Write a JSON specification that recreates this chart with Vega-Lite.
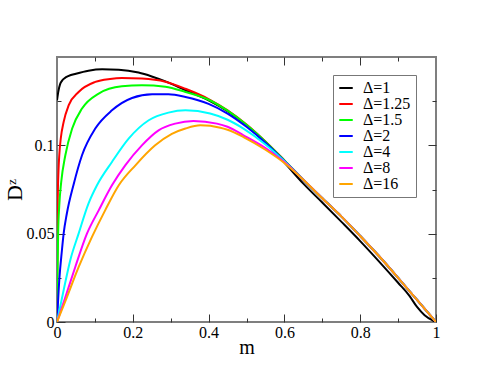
{
  "$schema": "https://vega.github.io/schema/vega-lite/v6.json",
  "width": 379,
  "height": 265,
  "autosize": {"type": "none"},
  "padding": {"left": 57, "top": 57, "right": 55, "bottom": 57},
  "config": {
    "view": {"stroke": "#7f7f7f", "strokeWidth": 2},
    "font": "Liberation Serif",
    "axis": {"domain": false, "grid": false, "labelFont": "Liberation Serif", "labelFontSize": 16, "labelColor": "#000", "titleFont": "Liberation Serif", "titleFontWeight": "normal", "titleColor": "#000", "tickColor": "#333", "tickWidth": 1, "labelFlush": false}
  },
  "resolve": {"axis": {"x": "independent", "y": "independent"}},
  "layer": [
    {
      "data": {"values": [
        {"s":"Δ=1","m":0,"D":0.1255},{"s":"Δ=1","m":0.004,"D":0.131},{"s":"Δ=1","m":0.008,"D":0.1345},{"s":"Δ=1","m":0.013,"D":0.1365},{"s":"Δ=1","m":0.02,"D":0.138},{"s":"Δ=1","m":0.031,"D":0.1393},{"s":"Δ=1","m":0.05,"D":0.1405},{"s":"Δ=1","m":0.083,"D":0.1422},{"s":"Δ=1","m":0.119,"D":0.143},{"s":"Δ=1","m":0.163,"D":0.1428},{"s":"Δ=1","m":0.215,"D":0.1412},{"s":"Δ=1","m":0.25,"D":0.139},{"s":"Δ=1","m":0.286,"D":0.1362},{"s":"Δ=1","m":0.339,"D":0.1312},{"s":"Δ=1","m":0.4,"D":0.1255},{"s":"Δ=1","m":0.45,"D":0.1193},{"s":"Δ=1","m":0.5,"D":0.1112},{"s":"Δ=1","m":0.55,"D":0.1015},{"s":"Δ=1","m":0.6,"D":0.0902},{"s":"Δ=1","m":0.65,"D":0.0783},{"s":"Δ=1","m":0.7,"D":0.0676},{"s":"Δ=1","m":0.75,"D":0.0568},{"s":"Δ=1","m":0.8,"D":0.0458},{"s":"Δ=1","m":0.85,"D":0.0342},{"s":"Δ=1","m":0.9,"D":0.0222},{"s":"Δ=1","m":0.93,"D":0.0148},{"s":"Δ=1","m":0.95,"D":0.0085},{"s":"Δ=1","m":0.97,"D":0.0038},{"s":"Δ=1","m":0.99,"D":0.001},{"s":"Δ=1","m":1,"D":0},

        {"s":"Δ=1.25","m":0,"D":0},{"s":"Δ=1.25","m":0.002,"D":0.07},{"s":"Δ=1.25","m":0.004,"D":0.086},{"s":"Δ=1.25","m":0.006,"D":0.0944},{"s":"Δ=1.25","m":0.01,"D":0.104},{"s":"Δ=1.25","m":0.0175,"D":0.1132},{"s":"Δ=1.25","m":0.031,"D":0.1227},{"s":"Δ=1.25","m":0.057,"D":0.1302},{"s":"Δ=1.25","m":0.101,"D":0.1359},{"s":"Δ=1.25","m":0.14,"D":0.1376},{"s":"Δ=1.25","m":0.171,"D":0.1381},{"s":"Δ=1.25","m":0.224,"D":0.1378},{"s":"Δ=1.25","m":0.286,"D":0.136},{"s":"Δ=1.25","m":0.339,"D":0.132},{"s":"Δ=1.25","m":0.4,"D":0.1262},{"s":"Δ=1.25","m":0.45,"D":0.1198},{"s":"Δ=1.25","m":0.5,"D":0.1118},{"s":"Δ=1.25","m":0.55,"D":0.1022},{"s":"Δ=1.25","m":0.6,"D":0.0915},{"s":"Δ=1.25","m":0.65,"D":0.0805},{"s":"Δ=1.25","m":0.7,"D":0.07},{"s":"Δ=1.25","m":0.75,"D":0.0598},{"s":"Δ=1.25","m":0.8,"D":0.0487},{"s":"Δ=1.25","m":0.85,"D":0.0372},{"s":"Δ=1.25","m":0.9,"D":0.025},{"s":"Δ=1.25","m":0.95,"D":0.0125},{"s":"Δ=1.25","m":1,"D":0},

        {"s":"Δ=1.5","m":0,"D":0},{"s":"Δ=1.5","m":0.001,"D":0.022},{"s":"Δ=1.5","m":0.003,"D":0.05},{"s":"Δ=1.5","m":0.006,"D":0.066},{"s":"Δ=1.5","m":0.011,"D":0.079},{"s":"Δ=1.5","m":0.022,"D":0.0944},{"s":"Δ=1.5","m":0.04,"D":0.1095},{"s":"Δ=1.5","m":0.066,"D":0.1208},{"s":"Δ=1.5","m":0.11,"D":0.1293},{"s":"Δ=1.5","m":0.171,"D":0.1334},{"s":"Δ=1.5","m":0.224,"D":0.134},{"s":"Δ=1.5","m":0.286,"D":0.1332},{"s":"Δ=1.5","m":0.339,"D":0.1302},{"s":"Δ=1.5","m":0.4,"D":0.1258},{"s":"Δ=1.5","m":0.45,"D":0.1196},{"s":"Δ=1.5","m":0.5,"D":0.1116},{"s":"Δ=1.5","m":0.55,"D":0.1021},{"s":"Δ=1.5","m":0.6,"D":0.0915},{"s":"Δ=1.5","m":0.65,"D":0.0805},{"s":"Δ=1.5","m":0.7,"D":0.07},{"s":"Δ=1.5","m":0.75,"D":0.0598},{"s":"Δ=1.5","m":0.8,"D":0.0487},{"s":"Δ=1.5","m":0.85,"D":0.0372},{"s":"Δ=1.5","m":0.9,"D":0.025},{"s":"Δ=1.5","m":0.95,"D":0.0125},{"s":"Δ=1.5","m":1,"D":0},

        {"s":"Δ=2","m":0,"D":0},{"s":"Δ=2","m":0.006,"D":0.0236},{"s":"Δ=2","m":0.013,"D":0.0406},{"s":"Δ=2","m":0.0175,"D":0.05},{"s":"Δ=2","m":0.026,"D":0.0614},{"s":"Δ=2","m":0.044,"D":0.078},{"s":"Δ=2","m":0.066,"D":0.0944},{"s":"Δ=2","m":0.101,"D":0.1095},{"s":"Δ=2","m":0.145,"D":0.1198},{"s":"Δ=2","m":0.198,"D":0.1268},{"s":"Δ=2","m":0.251,"D":0.1289},{"s":"Δ=2","m":0.294,"D":0.1289},{"s":"Δ=2","m":0.339,"D":0.1274},{"s":"Δ=2","m":0.4,"D":0.1235},{"s":"Δ=2","m":0.45,"D":0.118},{"s":"Δ=2","m":0.5,"D":0.1105},{"s":"Δ=2","m":0.55,"D":0.1015},{"s":"Δ=2","m":0.6,"D":0.0912},{"s":"Δ=2","m":0.65,"D":0.0805},{"s":"Δ=2","m":0.7,"D":0.07},{"s":"Δ=2","m":0.75,"D":0.0598},{"s":"Δ=2","m":0.8,"D":0.0487},{"s":"Δ=2","m":0.85,"D":0.0372},{"s":"Δ=2","m":0.9,"D":0.025},{"s":"Δ=2","m":0.95,"D":0.0125},{"s":"Δ=2","m":1,"D":0},

        {"s":"Δ=4","m":0,"D":0},{"s":"Δ=4","m":0.0175,"D":0.018},{"s":"Δ=4","m":0.035,"D":0.035},{"s":"Δ=4","m":0.057,"D":0.05},{"s":"Δ=4","m":0.083,"D":0.067},{"s":"Δ=4","m":0.1055,"D":0.0774},{"s":"Δ=4","m":0.145,"D":0.0906},{"s":"Δ=4","m":0.189,"D":0.1038},{"s":"Δ=4","m":0.242,"D":0.1142},{"s":"Δ=4","m":0.294,"D":0.1185},{"s":"Δ=4","m":0.339,"D":0.1198},{"s":"Δ=4","m":0.404,"D":0.118},{"s":"Δ=4","m":0.45,"D":0.1145},{"s":"Δ=4","m":0.492,"D":0.1095},{"s":"Δ=4","m":0.55,"D":0.1005},{"s":"Δ=4","m":0.6,"D":0.091},{"s":"Δ=4","m":0.65,"D":0.0805},{"s":"Δ=4","m":0.7,"D":0.07},{"s":"Δ=4","m":0.75,"D":0.0598},{"s":"Δ=4","m":0.8,"D":0.0487},{"s":"Δ=4","m":0.85,"D":0.0372},{"s":"Δ=4","m":0.9,"D":0.025},{"s":"Δ=4","m":0.95,"D":0.0125},{"s":"Δ=4","m":1,"D":0},

        {"s":"Δ=8","m":0,"D":0},{"s":"Δ=8","m":0.022,"D":0.014},{"s":"Δ=8","m":0.048,"D":0.031},{"s":"Δ=8","m":0.079,"D":0.05},{"s":"Δ=8","m":0.11,"D":0.0632},{"s":"Δ=8","m":0.145,"D":0.0774},{"s":"Δ=8","m":0.18,"D":0.0887},{"s":"Δ=8","m":0.224,"D":0.1},{"s":"Δ=8","m":0.268,"D":0.1085},{"s":"Δ=8","m":0.312,"D":0.1123},{"s":"Δ=8","m":0.36,"D":0.1138},{"s":"Δ=8","m":0.422,"D":0.1123},{"s":"Δ=8","m":0.45,"D":0.1105},{"s":"Δ=8","m":0.492,"D":0.1057},{"s":"Δ=8","m":0.55,"D":0.0985},{"s":"Δ=8","m":0.6,"D":0.0905},{"s":"Δ=8","m":0.65,"D":0.0805},{"s":"Δ=8","m":0.7,"D":0.07},{"s":"Δ=8","m":0.75,"D":0.0598},{"s":"Δ=8","m":0.8,"D":0.0487},{"s":"Δ=8","m":0.85,"D":0.0372},{"s":"Δ=8","m":0.9,"D":0.025},{"s":"Δ=8","m":0.95,"D":0.0125},{"s":"Δ=8","m":1,"D":0},

        {"s":"Δ=16","m":0,"D":0},{"s":"Δ=16","m":0.026,"D":0.014},{"s":"Δ=16","m":0.057,"D":0.031},{"s":"Δ=16","m":0.092,"D":0.048},{"s":"Δ=16","m":0.127,"D":0.0632},{"s":"Δ=16","m":0.163,"D":0.0774},{"s":"Δ=16","m":0.207,"D":0.0887},{"s":"Δ=16","m":0.259,"D":0.1},{"s":"Δ=16","m":0.303,"D":0.1065},{"s":"Δ=16","m":0.339,"D":0.1095},{"s":"Δ=16","m":0.378,"D":0.1113},{"s":"Δ=16","m":0.431,"D":0.11},{"s":"Δ=16","m":0.45,"D":0.1088},{"s":"Δ=16","m":0.492,"D":0.1047},{"s":"Δ=16","m":0.55,"D":0.0975},{"s":"Δ=16","m":0.6,"D":0.09},{"s":"Δ=16","m":0.65,"D":0.0805},{"s":"Δ=16","m":0.7,"D":0.07},{"s":"Δ=16","m":0.75,"D":0.0598},{"s":"Δ=16","m":0.8,"D":0.0487},{"s":"Δ=16","m":0.85,"D":0.0372},{"s":"Δ=16","m":0.9,"D":0.025},{"s":"Δ=16","m":0.95,"D":0.0125},{"s":"Δ=16","m":1,"D":0}
      ]},
      "mark": {"type": "line", "strokeWidth": 2, "interpolate": "monotone", "clip": true},
      "encoding": {
        "x": {"field": "m", "type": "quantitative", "scale": {"domain": [0, 1], "nice": false},
              "axis": {"orient": "bottom", "values": [0, 0.1, 0.2, 0.3, 0.4, 0.5, 0.6, 0.7, 0.8, 0.9, 1], "format": "~g",
                       "labelExpr": "round(datum.value*10) % 2 == 0 ? datum.label : ''",
                       "tickSize": {"condition": {"test": "round(datum.value*10) % 2 == 0", "value": -8}, "value": -4},
                       "labelPadding": 10, "title": "m", "titleFontSize": 20, "titlePadding": -3}},
        "y": {"field": "D", "type": "quantitative", "scale": {"domain": [0, 0.15], "nice": false, "zero": false},
              "axis": {"orient": "left", "values": [0, 0.025, 0.05, 0.075, 0.1, 0.125], "format": "~g",
                       "labelExpr": "round(datum.value*40) % 2 == 0 ? datum.label : ''",
                       "tickSize": {"condition": {"test": "round(datum.value*40) % 2 == 0", "value": -8}, "value": -4},
                       "labelPadding": 11, "title": "Dᶻ", "titleFontSize": 22, "titlePadding": 0}},
        "color": {"field": "s", "type": "nominal",
                  "scale": {"domain": ["Δ=1", "Δ=1.25", "Δ=1.5", "Δ=2", "Δ=4", "Δ=8", "Δ=16"],
                            "range": ["#000000", "#ff0000", "#00ff00", "#0000ff", "#00ffff", "#ff00ff", "#ffa500"]},
                  "legend": {"orient": "none", "legendX": 276, "legendY": 18, "title": null, "symbolType": "stroke", "symbolSize": 182, "symbolStrokeWidth": 2, "labelFont": "Liberation Serif", "labelFontSize": 16, "labelOffset": 9, "fillColor": "white", "strokeColor": "#777", "padding": 5, "rowPadding": -0.5}}
      }
    },
    {
      "data": {"values": [{"m": 0, "D": 0}]},
      "mark": {"type": "point", "opacity": 0},
      "encoding": {
        "x": {"field": "m", "type": "quantitative", "axis": {"orient": "top", "values": [0.1, 0.2, 0.3, 0.4, 0.5, 0.6, 0.7, 0.8, 0.9],
              "tickSize": {"condition": {"test": "round(datum.value*10) % 2 == 0", "value": -8}, "value": -4}, "labels": false, "title": null}},
        "y": {"field": "D", "type": "quantitative", "axis": {"orient": "right", "values": [0.025, 0.05, 0.075, 0.1, 0.125],
              "tickSize": {"condition": {"test": "round(datum.value*40) % 2 == 0", "value": -8}, "value": -4}, "labels": false, "title": null}}
      }
    }
  ]
}
